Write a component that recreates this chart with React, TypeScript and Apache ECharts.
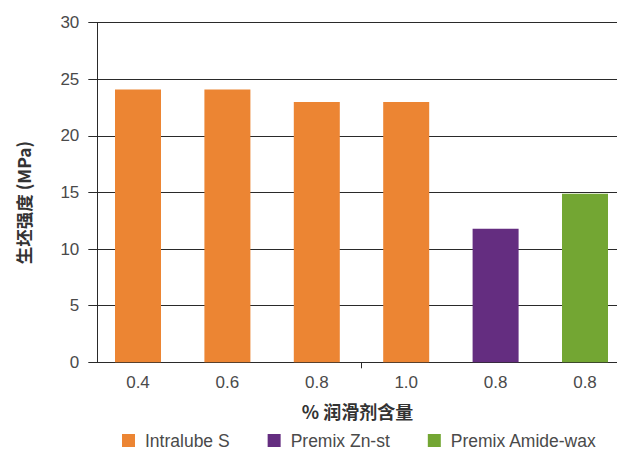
import React, { useEffect, useRef } from "react";
import * as echarts from "echarts";

const categories = ["0.4", "0.6", "0.8", "1.0", "0.8", "0.8"];
const intralubeS = [24.1, 24.1, 23.0, 23.0, null, null];
const premixZnSt = [null, null, null, null, 11.8, null];
const premixAmideWax = [null, null, null, null, null, 14.9];
const yTicks = { min: 0, max: 30, interval: 5 };
const groupBoundaries = [4];

const FONT = "'Liberation Sans', Arial, sans-serif";
const CJK = "'Noto Sans CJK SC', 'Liberation Sans', sans-serif";
const TXT = "#4a4a4a";
const LINE = "#2a2a2a";

export default function App() {
  const ref = useRef<HTMLDivElement>(null);
  useEffect(() => {
    if (!ref.current) return;
    const chart = echarts.init(ref.current, undefined, { renderer: "svg" });
    chart.setOption({
      animation: false,
      backgroundColor: "#ffffff",
      grid: {
        left: 93.3,
        top: 22.7,
        width: 536.4,
        height: 339.6,
        outerBoundsMode: "none",
        containLabel: false,
      },
      legend: {
        top: 431,
        left: 122,
        itemWidth: 13,
        itemHeight: 13,
        itemGap: 38,
        icon: "rect",
        padding: 0,
        textStyle: {
          fontFamily: FONT,
          fontSize: 17.5,
          lineHeight: 19,
          color: TXT,
          padding: [0, 0, 0, 5],
        },
        data: ["Intralube S", "Premix Zn-st", "Premix Amide-wax"],
      },
      xAxis: [
        {
          type: "category",
          data: categories,
          name: "% 润滑剂含量",
          nameLocation: "middle",
          nameGap: 40,
          nameTextStyle: {
            fontFamily: CJK,
            fontSize: 18,
            fontWeight: "bold",
            color: "#333",
            padding: [0, 8, 0, 0],
          },
          axisLine: { show: true, lineStyle: { color: LINE, width: 1 } },
          axisTick: { show: false },
          axisLabel: { fontFamily: FONT, fontSize: 17, color: TXT, margin: 12 },
        },
        {
          type: "value",
          position: "bottom",
          min: 0,
          max: categories.length,
          axisLine: { show: false },
          axisLabel: { show: false },
          splitLine: { show: false },
          axisTick: {
            show: true,
            customValues: groupBoundaries.map((b) => b - 1),
            length: 6,
            lineStyle: { color: LINE, width: 1 },
          },
        },
      ],
      yAxis: {
        type: "value",
        min: yTicks.min,
        max: yTicks.max,
        interval: yTicks.interval,
        offset: -4,
        name: "生坯强度 (MPa)",
        nameLocation: "middle",
        nameGap: 65,
        nameRotate: 90,
        nameTextStyle: {
          fontFamily: CJK,
          fontSize: 17.5,
          fontWeight: "bold",
          color: "#333",
          padding: [0, 20, 0, 0],
        },
        axisLine: { show: true, lineStyle: { color: LINE, width: 1 } },
        axisTick: { show: true, length: 9, lineStyle: { color: LINE, width: 1 } },
        axisLabel: { fontFamily: FONT, fontSize: 17, color: TXT, margin: 18 },
        splitLine: { show: true, lineStyle: { color: LINE, width: 1 } },
      },
      series: [
        {
          name: "Intralube S",
          type: "bar",
          stack: "all",
          barWidth: 46,
          data: intralubeS,
          itemStyle: { color: "#EC8533" },
        },
        {
          name: "Premix Zn-st",
          type: "bar",
          stack: "all",
          barWidth: 46,
          data: premixZnSt,
          itemStyle: { color: "#642D80" },
        },
        {
          name: "Premix Amide-wax",
          type: "bar",
          stack: "all",
          barWidth: 46,
          data: premixAmideWax,
          itemStyle: { color: "#73A633" },
        },
      ],
    });
    return () => chart.dispose();
  }, []);
  return (
    <div
      ref={ref}
      style={{ position: "fixed", left: 0, top: 0, width: 617, height: 451, background: "#fff" }}
    />
  );
}
